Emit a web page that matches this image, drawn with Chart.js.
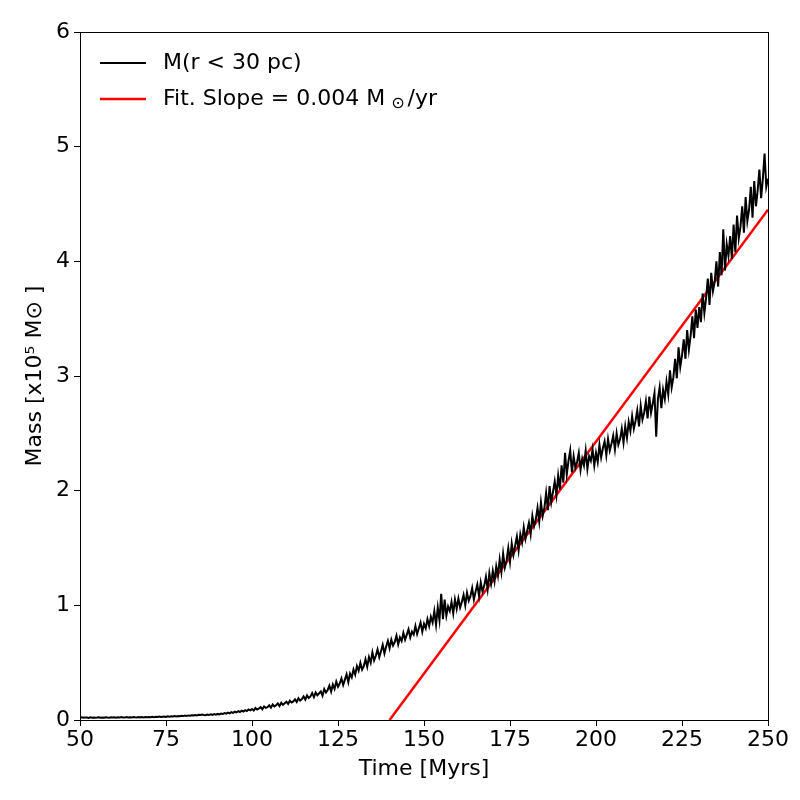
<!DOCTYPE html>
<html>
<head>
<meta charset="utf-8">
<title>Mass within 30 pc</title>
<script src="https://cdn.jsdelivr.net/npm/chart.js@4.4.1/dist/chart.umd.min.js"></script>
<style>
  html, body { margin: 0; padding: 0; background: #fff; }
  #wrap { width: 800px; height: 800px; }
</style>
</head>
<body>
<div id="wrap"><canvas id="massChart" width="800" height="800"></canvas></div>
<script>
// sampling of the black curve: one value every half Myr from 50 to 250
const timeStart = 50;
const timeStep = 0.5;

// M(r < 30 pc) in units of 1e5 Msun
const massEnclosed = [
  // 50-60
  0.020,0.023,0.019,0.022,0.021,0.018,0.023,0.020,0.022,0.019,0.021,0.024,0.020,0.022,0.019,0.023,0.021,0.020,0.024,0.021,
  // 60-70
  0.023,0.020,0.024,0.021,0.025,0.022,0.021,0.025,0.022,0.024,0.021,0.025,0.023,0.022,0.026,0.023,0.025,0.022,0.026,0.024,
  // 70-80
  0.027,0.024,0.028,0.025,0.029,0.026,0.030,0.027,0.029,0.031,0.027,0.032,0.029,0.033,0.030,0.034,0.031,0.035,0.032,0.036,
  // 80-90
  0.034,0.038,0.035,0.040,0.037,0.042,0.039,0.044,0.040,0.046,0.043,0.048,0.044,0.041,0.047,0.043,0.049,0.045,0.051,0.047,
  // 90-100
  0.053,0.049,0.056,0.052,0.060,0.055,0.064,0.058,0.068,0.062,0.072,0.066,0.077,0.070,0.081,0.074,0.086,0.078,0.092,0.084,
  // 100-110
  0.095,0.082,0.104,0.092,0.100,0.112,0.094,0.118,0.106,0.112,0.128,0.108,0.135,0.118,0.128,0.145,0.122,0.150,0.132,0.146,
  // 110-120
  0.160,0.140,0.168,0.152,0.162,0.180,0.158,0.190,0.170,0.182,0.205,0.178,0.215,0.192,0.205,0.235,0.200,0.240,0.215,0.232,
  // 120-130
  0.250,0.212,0.270,0.240,0.262,0.300,0.248,0.310,0.272,0.335,0.290,0.318,0.362,0.305,0.352,0.398,0.330,0.405,0.372,0.440,
  // 130-140
  0.395,0.470,0.430,0.498,0.440,0.470,0.530,0.465,0.548,0.500,0.590,0.520,0.560,0.615,0.548,0.600,0.655,0.580,0.640,0.690,
  // 140-150
  0.625,0.700,0.650,0.680,0.735,0.660,0.720,0.690,0.760,0.700,0.745,0.790,0.720,0.770,0.745,0.820,0.750,0.800,0.850,0.770,
  // 150-160
  0.840,0.800,0.880,0.820,0.900,0.850,0.950,0.830,0.980,0.870,1.100,0.880,1.050,0.910,0.990,0.950,1.030,0.930,1.050,0.970,
  // 160-170
  1.060,0.980,1.030,1.090,1.000,1.110,1.040,1.080,1.150,1.050,1.120,1.180,1.080,1.200,1.120,1.170,1.250,1.140,1.280,1.190,
  // 170-180
  1.300,1.210,1.340,1.260,1.400,1.290,1.450,1.330,1.390,1.500,1.380,1.540,1.440,1.520,1.600,1.480,1.620,1.550,1.680,1.580,
  // 180-190
  1.650,1.720,1.620,1.780,1.690,1.750,1.850,1.730,1.900,1.780,1.850,1.980,1.830,2.040,1.900,1.990,2.080,1.960,2.130,2.010,
  // 190-200
  2.220,2.070,2.330,2.140,2.260,2.350,2.160,2.300,2.200,2.250,2.330,2.180,2.280,2.220,2.350,2.190,2.300,2.260,2.360,2.220,
  // 200-210
  2.330,2.250,2.400,2.290,2.370,2.430,2.310,2.450,2.350,2.410,2.480,2.360,2.500,2.400,2.450,2.540,2.420,2.560,2.460,2.600,
  // 210-220
  2.520,2.650,2.540,2.610,2.700,2.560,2.740,2.620,2.680,2.780,2.630,2.820,2.680,2.760,2.850,2.470,2.800,2.900,2.720,2.880,
  // 220-230
  2.800,2.950,2.840,3.050,2.900,2.990,3.150,2.980,3.250,3.080,3.180,3.320,3.150,3.400,3.230,3.350,3.520,3.330,3.580,3.420,
  // 230-240
  3.600,3.470,3.720,3.550,3.680,3.850,3.620,3.900,3.740,3.820,4.000,3.780,4.080,3.880,4.280,3.920,4.150,4.050,4.220,4.020,
  // 240-250
  4.320,4.080,4.400,4.200,4.300,4.480,4.250,4.560,4.350,4.450,4.650,4.380,4.700,4.480,4.620,4.800,4.550,4.720,4.940,4.650,
  // 250
  4.720
];

// linear fit (red line), end points
const fitTime = [140, 250];
const fitMass = [0, 4.45];

// axis ticks
const xTicks = [50, 75, 100, 125, 150, 175, 200, 225, 250];
const yTicks = [0, 1, 2, 3, 4, 5, 6];

const FONT = "'DejaVu Sans', 'Liberation Sans', sans-serif";
const FS = 22;

// build the point lists for chart.js
const massPoints = massEnclosed.map((m, i) => ({ x: timeStart + i * timeStep, y: m }));
const fitPoints = fitTime.map((t, i) => ({ x: t, y: fitMass[i] }));

// frame around the plot + matplotlib style legend inside the axes
const framePlugin = {
  id: 'frameAndLegend',
  afterDraw(chart) {
    const ctx = chart.ctx;
    const a = chart.chartArea;
    ctx.save();
    ctx.strokeStyle = '#000';
    ctx.lineWidth = 1;
    ctx.strokeRect(Math.round(a.left) + 0.5, Math.round(a.top) + 0.5,
                   Math.round(a.right - a.left), Math.round(a.bottom - a.top));

    // legend
    ctx.font = FS + 'px ' + FONT;
    ctx.textBaseline = 'middle';
    ctx.fillStyle = '#000';
    const lx0 = a.left + 20, lx1 = a.left + 66, tx = a.left + 83;
    const row1 = a.top + 31, row2 = a.top + 67;

    ctx.lineWidth = 2;
    ctx.strokeStyle = '#000';
    ctx.beginPath(); ctx.moveTo(lx0, row1); ctx.lineTo(lx1, row1); ctx.stroke();
    ctx.fillText('M(r < 30 pc)', tx, row1);

    ctx.lineWidth = 2.5;
    ctx.strokeStyle = '#ff0000';
    ctx.beginPath(); ctx.moveTo(lx0, row2); ctx.lineTo(lx1, row2); ctx.stroke();
    let s = 'Fit. Slope = 0.004 M';
    ctx.fillText(s, tx, row2);
    let x = tx + ctx.measureText(s).width + 6;
    ctx.font = '16px ' + FONT;
    ctx.fillText('\u2299', x, row2 + 5);
    x += ctx.measureText('\u2299').width + 3;
    ctx.font = FS + 'px ' + FONT;
    ctx.fillText('/yr', x, row2);
    ctx.restore();
  }
};

new Chart(document.getElementById('massChart'), {
  type: 'line',
  data: {
    datasets: [
      {
        label: 'M(r < 30 pc)',
        data: massPoints,
        borderColor: '#000000',
        borderWidth: 2,
        pointRadius: 0,
        tension: 0,
        fill: false
      },
      {
        label: 'Fit. Slope = 0.004 M\u2299/yr',
        data: fitPoints,
        borderColor: '#ff0000',
        borderWidth: 2.5,
        pointRadius: 0,
        tension: 0,
        fill: false
      }
    ]
  },
  options: {
    responsive: false,
    animation: false,
    devicePixelRatio: 1,
    layout: { padding: { top: 32, right: 32, left: 0, bottom: 0 } },
    plugins: {
      legend: { display: false },
      tooltip: { enabled: false }
    },
    scales: {
      x: {
        type: 'linear',
        min: 50,
        max: 250,
        afterBuildTicks: (scale) => { scale.ticks = xTicks.map(v => ({ value: v })); },
        afterFit: (scale) => { scale.height = 80; },
        ticks: { color: '#000', font: { family: FONT, size: FS }, padding: 1, maxRotation: 0 },
        grid: { drawOnChartArea: false, drawTicks: true, tickLength: 6, color: '#000', lineWidth: 1 },
        border: { display: true, color: '#000', width: 1 },
        title: { display: true, text: 'Time [Myrs]', color: '#000', font: { family: FONT, size: FS }, padding: { top: 0, bottom: 18 } }
      },
      y: {
        type: 'linear',
        min: 0,
        max: 6,
        afterBuildTicks: (scale) => { scale.ticks = yTicks.map(v => ({ value: v })); },
        afterFit: (scale) => { scale.width = 80; },
        ticks: { color: '#000', font: { family: FONT, size: FS }, padding: 4 },
        grid: { drawOnChartArea: false, drawTicks: true, tickLength: 6, color: '#000', lineWidth: 1 },
        border: { display: true, color: '#000', width: 1 },
        title: { display: true, text: 'Mass [x10\u2075 M\u2299 ]', color: '#000', font: { family: FONT, size: FS }, padding: { top: 22, bottom: 0 } }
      }
    }
  },
  plugins: [framePlugin]
});
</script>
</body>
</html>
